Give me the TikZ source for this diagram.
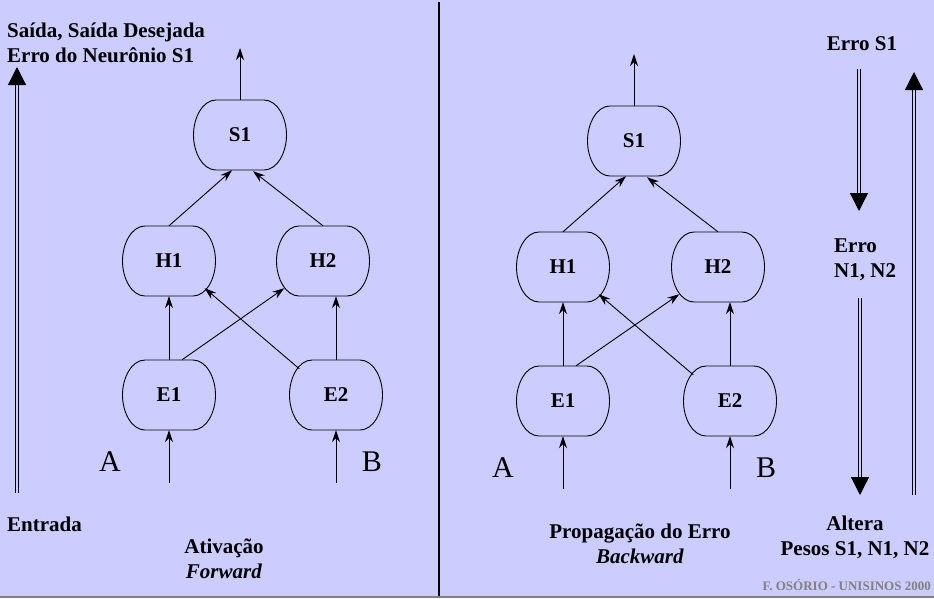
\documentclass[tikz,border=0pt]{standalone}
\usepackage{fontspec}
\setmainfont{Liberation Serif}
\usetikzlibrary{arrows.meta, positioning}
\definecolor{lilac}{RGB}{204,204,255}
\definecolor{signgray}{RGB}{128,128,128}

\begin{document}
\begin{tikzpicture}[x=1pt,y=-1pt,on grid]
    \tikzstyle{neuron}=[shape=rectangle,minimum width=93pt,minimum height=70pt,font=\fontsize{21}{24}\selectfont\bfseries]
    \tikzstyle{rim}=[draw,line width=0.9pt]
    \tikzstyle{link}=[draw,line width=0.9pt,-{Stealth[length=12pt,width=8pt,inset=4pt]}]
    \tikzstyle{bigarrow}=[double=lilac,double distance=1.6pt,line width=1.2pt,-{Triangle[length=18pt,width=18pt]}]
    \tikzstyle{caption}=[inner sep=0pt,font=\fontsize{21}{25}\selectfont\bfseries]
    \tikzstyle{letter}=[inner sep=0pt,anchor=base,font=\fontsize{30}{30}\selectfont]

    \fill[lilac] (0,0) rectangle (934,598);
    \useasboundingbox (0,0) rectangle (934,598);

    % left half: forward
    \node[neuron] (S1L) at (240,135) {S1};
    \node[neuron, below left=126pt and 71pt of S1L] (H1L) {H1};
    \node[neuron, below right=126pt and 83pt of S1L] (H2L) {H2};
    \node[neuron, below=134pt of H1L] (E1L) {E1};
    \node[neuron, below right=134pt and 13pt of H2L] (E2L) {E2};
    \coordinate (outL) at (240,48);
    \coordinate (inAL) at (169,483);
    \coordinate (inBL) at (336,483);

    \path[every edge/.style=link]
    (S1L.north) edge (outL)
    (H1L.north) edge ([xshift=-8pt]S1L.south)
    (H2L.north) edge ([xshift=13pt,yshift=-1pt]S1L.south)
    (E1L.north) edge (H1L.south)
    (E2L.north) edge ([xshift=13pt]H2L.south)
    ([xshift=13pt]E1L.north) edge ([xshift=8pt,yshift=8pt]H2L.south west)
    ([xshift=10pt,yshift=-9pt]E2L.north west) edge ([xshift=-11pt,yshift=8pt]H1L.south east)
    (inAL) edge (E1L.south)
    (inBL) edge (E2L.south)
    ;

    \node[letter] (AL) at (110,471) {A};
    \node[letter] (BL) at (372,471) {B};

    \node[caption, anchor=base west, align=left] (outtxt) at (7,62) {Saída, Saída Desejada\\Erro do Neurônio S1};
    \node[caption, anchor=base west] (intxt) at (7,531) {Entrada};
    \node[caption, anchor=base, align=center] (fwdtxt) at (224,578) {Ativação\\\textit{Forward}};
    \coordinate (upLa) at (17,493);
    \coordinate (upLb) at (17,67);
    \draw[bigarrow] (upLa) -- (upLb);

    % divider
    \coordinate (divtop) at (439,2);
    \coordinate (divbot) at (439,597);
    \draw[line width=1.3pt] (divtop) -- (divbot);

    % right half: backward
    \node[neuron] (S1R) at (634,141) {S1};
    \node[neuron, below left=126pt and 71pt of S1R] (H1R) {H1};
    \node[neuron, below right=126pt and 84pt of S1R] (H2R) {H2};
    \node[neuron, below=134pt of H1R] (E1R) {E1};
    \node[neuron, below right=134pt and 12pt of H2R] (E2R) {E2};
    \coordinate (outR) at (634,54);
    \coordinate (inAR) at (563,489);
    \coordinate (inBR) at (730,489);

    \path[every edge/.style=link]
    (S1R.north) edge (outR)
    (H1R.north) edge ([xshift=-8pt]S1R.south)
    (H2R.north) edge ([xshift=13pt,yshift=-1pt]S1R.south)
    (E1R.north) edge (H1R.south)
    (E2R.north) edge ([xshift=12pt]H2R.south)
    ([xshift=13pt]E1R.north) edge ([xshift=8pt,yshift=8pt]H2R.south west)
    ([xshift=10pt,yshift=-9pt]E2R.north west) edge ([xshift=-11pt,yshift=8pt]H1R.south east)
    (inAR) edge (E1R.south)
    (inBR) edge (E2R.south)
    ;

    % oval outlines of the neurons
    \foreach \n in {S1L,H1L,H2L,E1L,E2L,S1R,H1R,H2R,E1R,E2R}
      \draw[rim,shift={(\n.center)}] (-24,-35) -- (24,-35)
        .. controls (37,-35) and (46.5,-18) .. (46.5,0)
        .. controls (46.5,18) and (37,35) .. (24,35) -- (-24,35)
        .. controls (-37,35) and (-46.5,18) .. (-46.5,0)
        .. controls (-46.5,-18) and (-37,-35) .. cycle;

    \node[letter] (AR) at (503,477) {A};
    \node[letter] (BR) at (766,477) {B};

    \node[caption, anchor=base, align=center] (bwdtxt) at (640,563) {Propagação do Erro\\\textit{Backward}};
    \node[caption, anchor=base] (errS) at (862,50) {Erro S1};
    \node[caption, anchor=base west, align=left] (errN) at (834,277) {Erro\\N1, N2};
    \node[caption, anchor=base, align=center] (alt) at (855,555) {Altera\\Pesos S1, N1, N2};
    \node[inner sep=0pt, anchor=base east, text=signgray, font=\fontsize{13}{13}\selectfont\bfseries] (sign) at (931,590) {F. OSÓRIO - UNISINOS 2000};

    \coordinate (dnAa) at (859,69);
    \coordinate (dnAb) at (859,211);
    \coordinate (dnBa) at (860,298);
    \coordinate (dnBb) at (860,495);
    \coordinate (upRa) at (914,495);
    \coordinate (upRb) at (914,72);
    \draw[bigarrow] (dnAa) -- (dnAb);
    \draw[bigarrow] (dnBa) -- (dnBb);
    \draw[bigarrow] (upRa) -- (upRb);

    % bottom edge
    \coordinate (edgeL) at (0,597);
    \coordinate (edgeR) at (934,597);
    \draw[signgray, line width=2pt] (edgeL) -- (edgeR);
\end{tikzpicture}
\end{document}
